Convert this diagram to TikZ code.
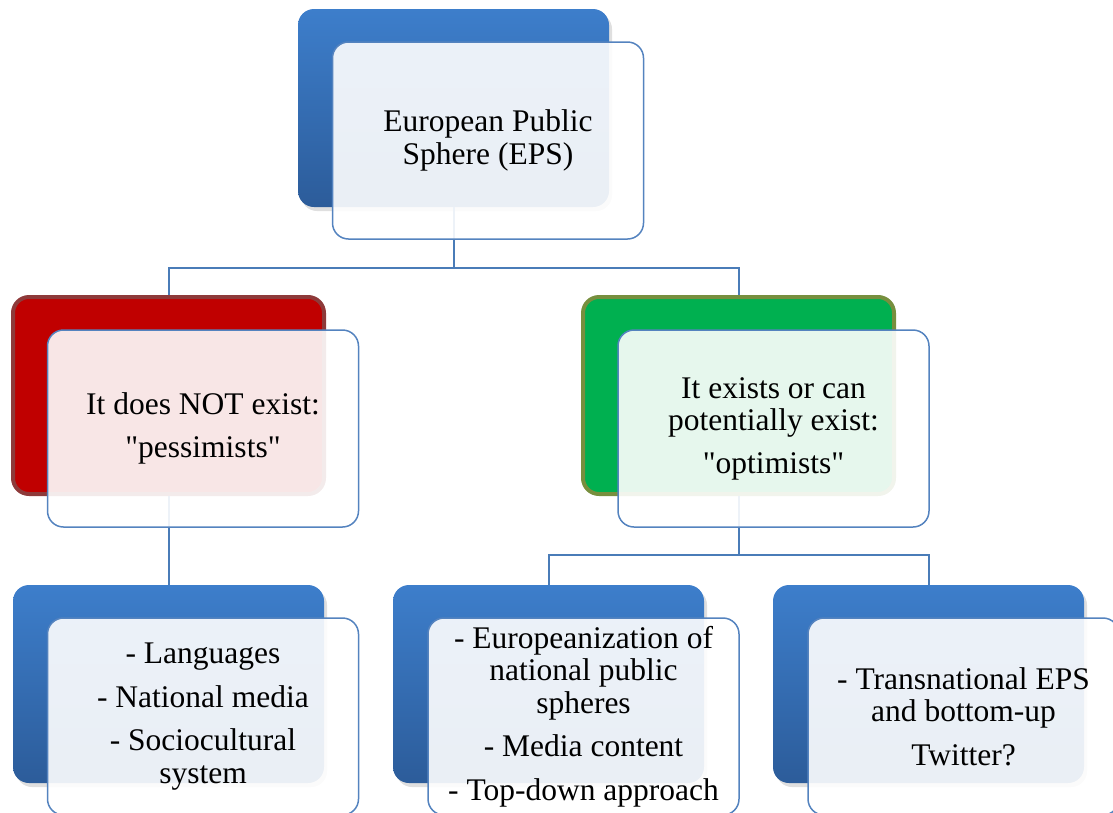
\documentclass[tikz,border=0pt]{standalone}
\usepackage{fontspec}
\setmainfont{Liberation Serif}[Ligatures=TeXOff]
\usetikzlibrary{shadows}
\definecolor{bluetop}{HTML}{3D7ECB}
\definecolor{bluebot}{HTML}{2C5C9A}
\definecolor{frontline}{HTML}{5483BF}
\definecolor{conn}{HTML}{4A7CB8}
\definecolor{redfill}{HTML}{C00000}
\definecolor{redline}{HTML}{8E3A3A}
\definecolor{greenfill}{HTML}{00B050}
\definecolor{greenline}{HTML}{778F3E}
\tikzset{
  backbox/.style={rectangle, rounded corners=16pt, minimum width=311pt, minimum height=198pt, inner sep=0pt},
  bluebox/.style={backbox, top color=bluetop, bottom color=bluebot, draw=none,
     drop shadow={opacity=0.25, shadow xshift=3pt, shadow yshift=-4pt}},
  redbox/.style={backbox, fill=redfill, draw=redline, line width=4pt, minimum width=311pt, minimum height=197pt},
  greenbox/.style={backbox, fill=greenfill, draw=greenline, line width=4pt, minimum width=311pt, minimum height=197pt},
  frontbox/.style={rectangle, rounded corners=16pt, minimum width=311pt, minimum height=197pt, inner sep=0pt,
     fill=white, fill opacity=0.9, text opacity=1, draw=frontline, line width=1.5pt, align=center,
     font=\fontsize{31.5}{32.5}\selectfont},
  connector/.style={draw=conn, line width=2pt},
}
\begin{document}
\begin{tikzpicture}[x=1pt, y=-1pt]
\useasboundingbox (0,0) rectangle (1113,812);
% back boxes
\node[bluebox] (tb) at (453.5,108) {};
\node[redbox] (lb) at (168.5,395.5) {};
\node[greenbox] (rb) at (738.5,395.5) {};
\node[bluebox] (blb) at (168.5,684) {};
\node[bluebox] (bmb) at (548.5,684) {};
\node[bluebox] (brb) at (928.5,684) {};
% connectors
\coordinate (j1) at (453.5,268);
\draw[connector] (tb.south) -- (j1);
\draw[connector] (lb.north) |- (j1) -| (rb.north);
\draw[connector] (lb.south) -- (blb.north);
\coordinate (j2) at (738.5,555);
\draw[connector] (rb.south) -- (j2);
\draw[connector] (bmb.north) |- (j2) -| (brb.north);
% front boxes
\node[frontbox] (tf) at (488,140.5) {European Public\\Sphere (EPS)};
\node[frontbox] (lf) at (203,428.5) {It does NOT exist:\\[10pt]"pessimists"};
\node[frontbox] (rf) at (773.5,428.5) {It exists or can\\potentially exist:\\[10pt]"optimists"};
\node[frontbox] (blf) at (203,716.5) {- Languages\\[11pt]- National media\\[11pt]- Sociocultural\\system};
\node[frontbox] (bmf) at (583.5,716.5) {- Europeanization of\\national public\\spheres\\[11pt]- Media content\\[11pt]- Top-down approach};
\node[frontbox] (brf) at (963.5,716.5) {- Transnational EPS\\and bottom-up\\[11pt]Twitter?};
\end{tikzpicture}
\end{document}
